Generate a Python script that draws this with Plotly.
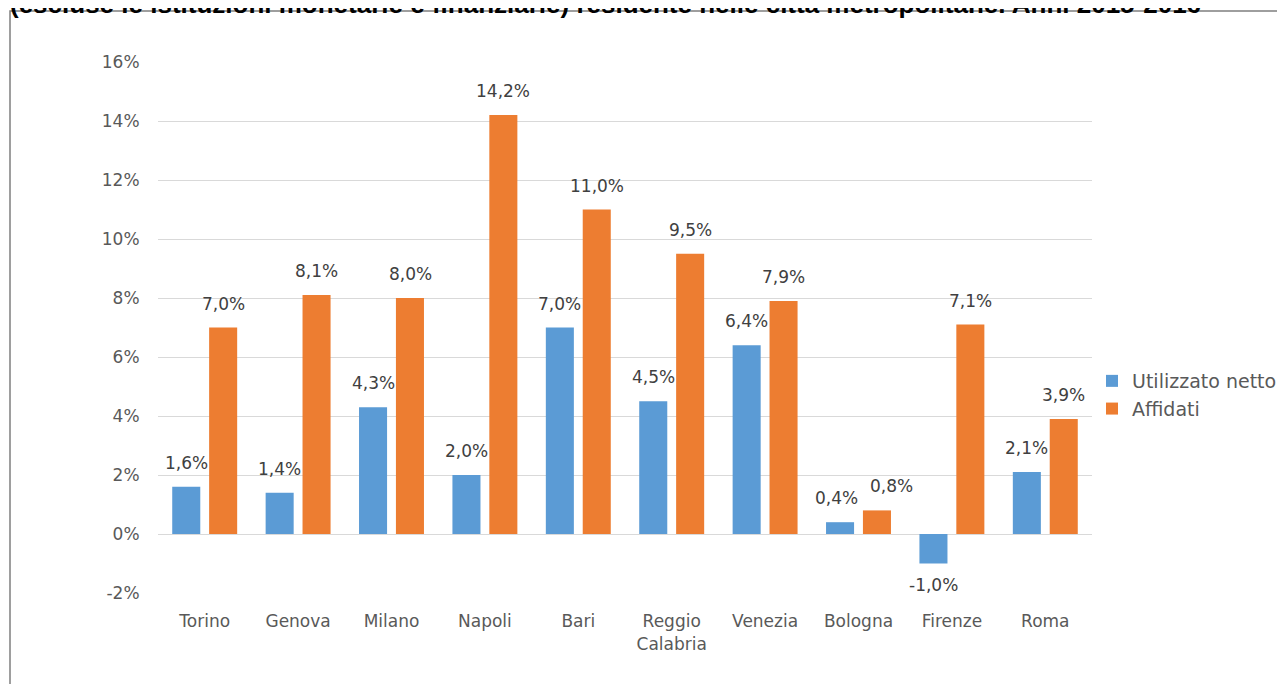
import plotly.graph_objects as go

categories = ["Torino", "Genova", "Milano", "Napoli", "Bari", "Reggio<br>Calabria",
              "Venezia", "Bologna", "Firenze", "Roma"]
utilizzato = [1.6, 1.4, 4.3, 2.0, 7.0, 4.5, 6.4, 0.4, -1.0, 2.1]
affidati = [7.0, 8.1, 8.0, 14.2, 11.0, 9.5, 7.9, 0.8, 7.1, 3.9]
y_ticks = [-2, 0, 2, 4, 6, 8, 10, 12, 14, 16]
y_tick_labels = [f"{v}%" for v in y_ticks]
title_text = ("(escluse le istituzioni monetarie e finanziarie) residente nelle "
              "città metropolitane. Anni 2015-2016")

def fmt(v):
    return f"{v:.1f}%".replace(".", ",")

FONT = "DejaVu Sans"
GRAY = "#595959"
W, H = 1277, 676
L, R, T, B = 150, 193, 54, 91
PW, PH = W - L - R, H - T - B

fig = go.Figure()
fig.add_trace(go.Bar(name="Utilizzato netto", x=categories, y=utilizzato,
                     marker_color="#5B9BD5", marker_line_width=0))
fig.add_trace(go.Bar(name="Affidati", x=categories, y=affidati,
                     marker_color="#ED7D31", marker_line_width=0))

annotations = []
for c, u, a in zip(categories, utilizzato, affidati):
    close = u >= 0 and a >= 0 and abs(u - a) < 1.0
    for v, shift in ((u, -18.5 - (4 if close else 0)), (a, 18.5 + (14 if close else 0))):
        annotations.append(dict(
            x=c, y=v, xref="x", yref="y", text=fmt(v), showarrow=False,
            xshift=shift, yshift=(12 if v >= 0 else -9),
            yanchor=("bottom" if v >= 0 else "top"),
            font=dict(family=FONT, size=17, color="#404040")))

annotations.append(dict(
    text=title_text, xref="paper", yref="paper",
    x=(0 - L) / PW, y=(H - B - 13) / PH,
    xanchor="left", yanchor="bottom", showarrow=False,
    font=dict(family="Liberation Sans", size=26, color="black", weight="bold")))

fig.update_layout(
    width=W, height=H,
    margin=dict(l=L, r=R, t=T, b=B, autoexpand=False),
    paper_bgcolor="white", plot_bgcolor="white",
    barmode="group", bargap=0.21, bargroupgap=0.24,
    font=dict(family=FONT, size=17, color=GRAY),
    showlegend=True,
    legend=dict(x=1.0, y=0.435, xanchor="left", yanchor="top",
                font=dict(family=FONT, size=19, color=GRAY),
                itemwidth=30, tracegroupgap=0),
    xaxis=dict(showgrid=False, showline=False, ticks="outside", ticklen=13,
               tickcolor="rgba(0,0,0,0)", tickfont=dict(size=17, color=GRAY)),
    yaxis=dict(range=[-2, 16], tickvals=y_ticks, ticktext=y_tick_labels,
               showgrid=True, gridcolor="#D9D9D9", gridwidth=1,
               zeroline=False, showline=False, ticks="outside", ticklen=14,
               tickcolor="rgba(0,0,0,0)", tickfont=dict(size=17, color=GRAY)),
    shapes=[dict(type="rect", xref="paper", yref="paper",
                 x0=(2 - L) / PW, x1=(W + 20 - L) / PW,
                 y0=(H - B - (H + 20)) / PH, y1=(H - B - 3) / PH,
                 line=dict(color="#7F7F7F", width=1.5), fillcolor="rgba(0,0,0,0)",
                 layer="below")],
    annotations=annotations,
)

fig.write_html("out.html")
